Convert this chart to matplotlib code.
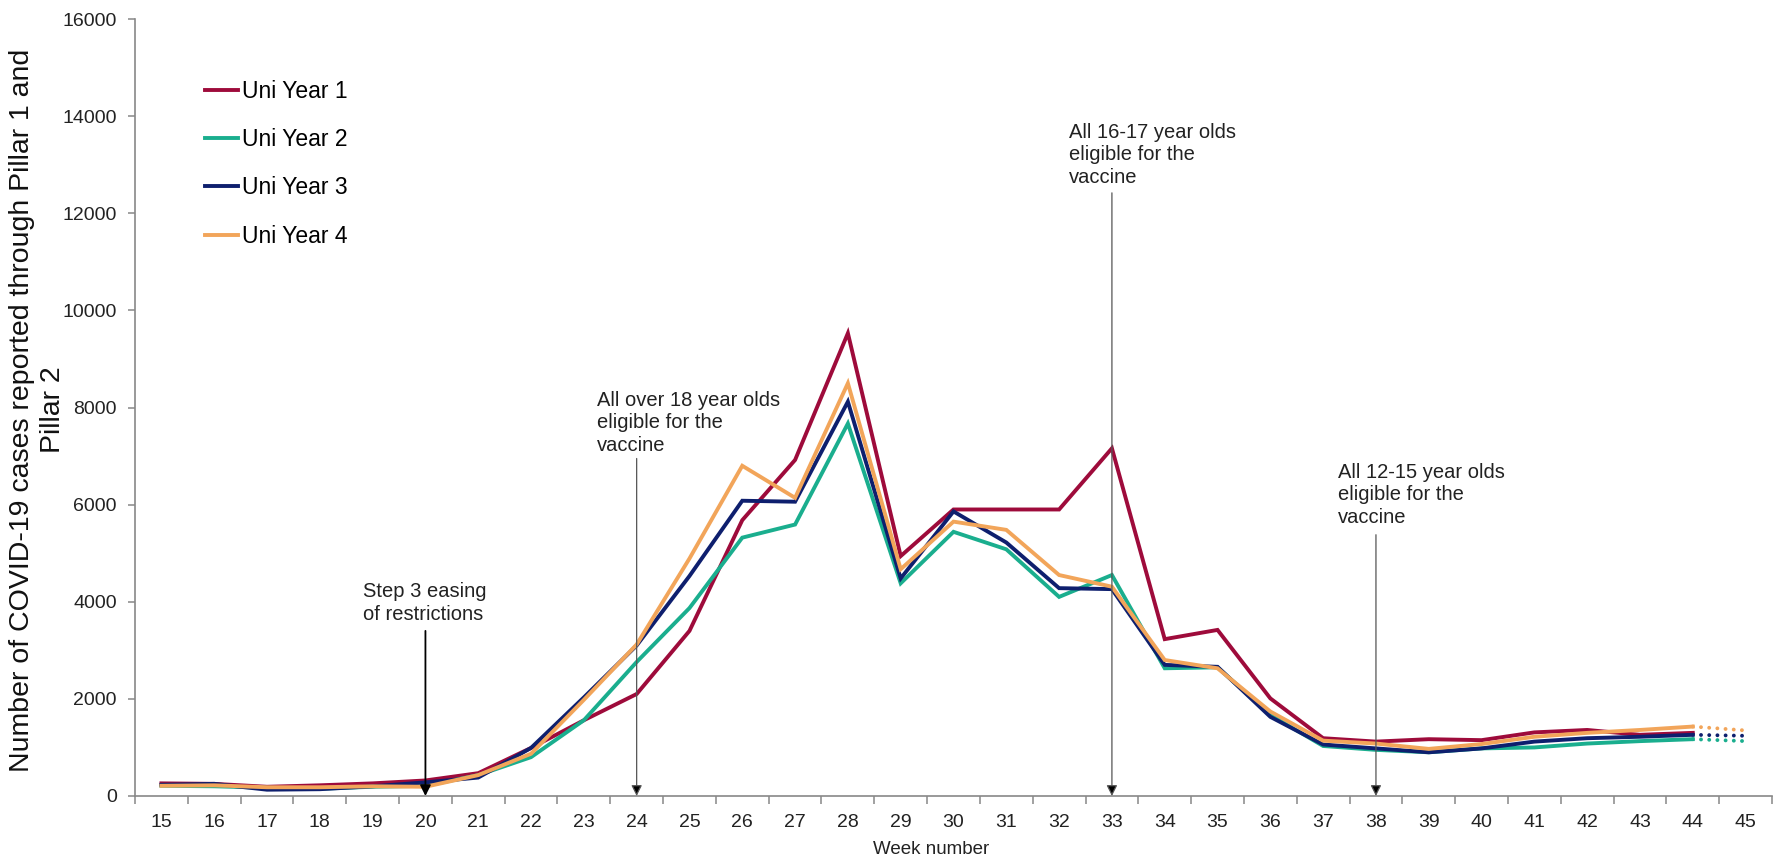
import matplotlib
matplotlib.use('Agg')
import matplotlib.pyplot as plt

plt.rcParams['font.family'] = ['Liberation Sans', 'DejaVu Sans']

weeks = list(range(15, 45))
uni1 = [260, 250, 190, 220, 260, 320, 470, 990, 1560, 2100, 3400, 5680, 6920, 9530, 4940,
        5900, 5900, 5900, 7160, 3230, 3420, 2010, 1190, 1120, 1170, 1150, 1310, 1360, 1260, 1300]
uni2 = [210, 200, 170, 150, 190, 210, 430, 800, 1560, 2760, 3870, 5320, 5590, 7670, 4380,
        5440, 5080, 4100, 4550, 2630, 2650, 1670, 1030, 950, 900, 980, 1000, 1080, 1130, 1170]
uni3 = [230, 250, 130, 140, 200, 280, 380, 990, 2030, 3100, 4530, 6080, 6060, 8120, 4480,
        5860, 5220, 4280, 4260, 2700, 2660, 1630, 1060, 980, 900, 980, 1120, 1190, 1220, 1260]
uni4 = [210, 220, 180, 180, 200, 190, 430, 870, 1980, 3120, 4890, 6800, 6140, 8500, 4670,
        5650, 5480, 4550, 4310, 2800, 2630, 1740, 1140, 1080, 970, 1070, 1220, 1300, 1360, 1430]

# incomplete last week (dotted)
week_next = 45
next_vals = {'Uni Year 2': 1130, 'Uni Year 3': 1240, 'Uni Year 4': 1350}

labels = ['Uni Year 1', 'Uni Year 2', 'Uni Year 3', 'Uni Year 4']
colors = ['#9E0B3B', '#1AAE8E', '#0E1F6E', '#F2A55A']
series = [uni1, uni2, uni3, uni4]

# annotations: text, text x, text y (last baseline), arrow week, arrow start
notes = [
    ('Step 3 easing\nof restrictions', 18.82, 3620, 20, 3400, 'black', 1.3),
    ('All over 18 year olds\neligible for the\nvaccine', 23.25, 7100, 24, 6950, '#555555', 0.9),
    ('All 16-17 year olds\neligible for the\nvaccine', 32.19, 12620, 33, 12420, '#555555', 0.9),
    ('All 12-15 year olds\neligible for the\nvaccine', 37.28, 5620, 38, 5380, '#555555', 0.9),
]

fig = plt.figure(figsize=(17.77, 8.64), dpi=100)
ax = fig.add_axes([135 / 1777, 68 / 864, 1637 / 1777, 777 / 864])

for lab, col, vals in zip(labels, colors, series):
    ax.plot(weeks, vals, color=col, lw=2.8, label=lab, solid_joinstyle='miter')
    if lab in next_vals:
        ax.plot([weeks[-1], week_next], [vals[-1], next_vals[lab]], color=col, lw=2.8,
                linestyle=(0, (0.01, 2.1)), dash_capstyle='round')

for txt, tx, ty, wk, y0, lc, lw in notes:
    ax.text(tx, ty, txt, fontsize=14.5, color='#222222', va='baseline', ha='left',
            linespacing=1.25)
    ax.annotate('', xy=(wk, 0), xytext=(wk, y0),
                arrowprops=dict(arrowstyle='-|>', color=lc, lw=lw, mutation_scale=16,
                                shrinkA=0, shrinkB=0, fc='black', ec=lc))

ax.set_xlim(14.5, 45.5)
ax.set_ylim(0, 16000)
ax.set_xticks(range(15, 46))
ax.set_xticks([w + 0.5 for w in range(14, 46)], minor=True)
ax.set_yticks(range(0, 16001, 2000))
ax.tick_params(axis='x', which='major', length=0, pad=13, labelsize=14, colors='#222222')
ax.tick_params(axis='x', which='minor', length=6, width=1.1, color='#888888')
ax.tick_params(axis='y', length=5, width=1.1, color='#888888', pad=8, labelsize=14,
               labelcolor='#222222')

for s in ['top', 'right']:
    ax.spines[s].set_visible(False)
for s in ['left', 'bottom']:
    ax.spines[s].set_color('#888888')
    ax.spines[s].set_linewidth(1.2)

# y label, two centred lines
ylab = ['Number of COVID-19 cases reported through Pillar 1 and', 'Pillar 2']
for xpix, line in zip([22, 53], ylab):
    fig.text(xpix / 1777, 1 - 410 / 864, line, rotation=90, ha='center', va='center',
             fontsize=20.5, color='#111111')
fig.text(931 / 1777, 1 - 850 / 864, 'Week number', ha='center', va='center',
         fontsize=13.5, color='#222222')

ax.legend(loc='upper left', bbox_to_anchor=(205 / 1777, 1 - 80 / 864),
          bbox_transform=fig.transFigure, frameon=False, fontsize=16.5,
          handlelength=1.45, handletextpad=0.15, labelspacing=1.1,
          borderpad=0, borderaxespad=0)

fig.savefig('out.png', dpi=100)
